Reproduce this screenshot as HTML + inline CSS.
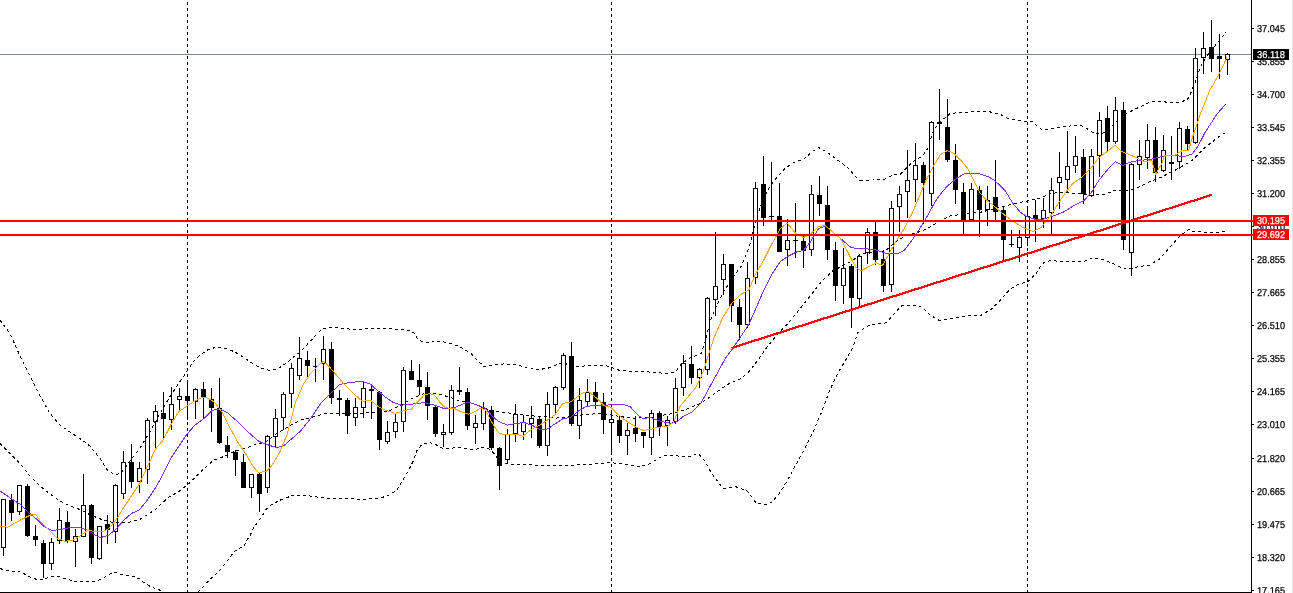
<!DOCTYPE html>
<html><head><meta charset="utf-8"><title>Chart</title>
<style>html,body{margin:0;padding:0;background:#fff;overflow:hidden}svg{display:block}</style></head>
<body>
<svg width="1293" height="593" viewBox="0 0 1293 593" shape-rendering="crispEdges">
<rect width="1293" height="593" fill="#fff"/>
<rect x="0" y="54" width="1251" height="1" fill="#778899"/>
<line x1="187.5" y1="2" x2="187.5" y2="592" stroke="#000" stroke-width="1" stroke-dasharray="3 3"/>
<line x1="611.5" y1="2" x2="611.5" y2="592" stroke="#000" stroke-width="1" stroke-dasharray="3 3"/>
<line x1="1027.5" y1="2" x2="1027.5" y2="592" stroke="#000" stroke-width="1" stroke-dasharray="3 3"/>
<rect x="3" y="499" width="1" height="57" fill="#000"/>
<rect x="1" y="499" width="5" height="49" fill="#000"/>
<rect x="2" y="500" width="3" height="47" fill="#fff"/>
<rect x="11" y="494" width="1" height="27" fill="#000"/>
<rect x="9" y="500" width="5" height="13" fill="#000"/>
<rect x="19" y="485" width="1" height="30" fill="#000"/>
<rect x="17" y="485" width="5" height="27" fill="#000"/>
<rect x="18" y="486" width="3" height="25" fill="#fff"/>
<rect x="27" y="484" width="1" height="53" fill="#000"/>
<rect x="25" y="486" width="5" height="50" fill="#000"/>
<rect x="35" y="525" width="1" height="21" fill="#000"/>
<rect x="33" y="536" width="5" height="4" fill="#000"/>
<rect x="43" y="540" width="1" height="38" fill="#000"/>
<rect x="41" y="543" width="5" height="21" fill="#000"/>
<rect x="51" y="538" width="1" height="32" fill="#000"/>
<rect x="49" y="542" width="5" height="22" fill="#000"/>
<rect x="50" y="543" width="3" height="20" fill="#fff"/>
<rect x="59" y="508" width="1" height="36" fill="#000"/>
<rect x="57" y="520" width="5" height="21" fill="#000"/>
<rect x="58" y="521" width="3" height="19" fill="#fff"/>
<rect x="67" y="511" width="1" height="32" fill="#000"/>
<rect x="65" y="522" width="5" height="19" fill="#000"/>
<rect x="75" y="529" width="1" height="38" fill="#000"/>
<rect x="73" y="536" width="5" height="6" fill="#000"/>
<rect x="74" y="537" width="3" height="4" fill="#fff"/>
<rect x="83" y="474" width="1" height="63" fill="#000"/>
<rect x="81" y="505" width="5" height="32" fill="#000"/>
<rect x="82" y="506" width="3" height="30" fill="#fff"/>
<rect x="91" y="504" width="1" height="60" fill="#000"/>
<rect x="89" y="505" width="5" height="53" fill="#000"/>
<rect x="99" y="526" width="1" height="34" fill="#000"/>
<rect x="97" y="526" width="5" height="33" fill="#000"/>
<rect x="98" y="527" width="3" height="31" fill="#fff"/>
<rect x="107" y="515" width="1" height="29" fill="#000"/>
<rect x="105" y="524" width="5" height="6" fill="#000"/>
<rect x="115" y="484" width="1" height="59" fill="#000"/>
<rect x="113" y="485" width="5" height="47" fill="#000"/>
<rect x="114" y="486" width="3" height="45" fill="#fff"/>
<rect x="123" y="451" width="1" height="48" fill="#000"/>
<rect x="121" y="462" width="5" height="32" fill="#000"/>
<rect x="122" y="463" width="3" height="30" fill="#fff"/>
<rect x="131" y="444" width="1" height="44" fill="#000"/>
<rect x="129" y="462" width="5" height="20" fill="#000"/>
<rect x="139" y="462" width="1" height="31" fill="#000"/>
<rect x="137" y="468" width="5" height="14" fill="#000"/>
<rect x="138" y="469" width="3" height="12" fill="#fff"/>
<rect x="147" y="418" width="1" height="66" fill="#000"/>
<rect x="145" y="420" width="5" height="50" fill="#000"/>
<rect x="146" y="421" width="3" height="48" fill="#fff"/>
<rect x="155" y="405" width="1" height="43" fill="#000"/>
<rect x="153" y="411" width="5" height="11" fill="#000"/>
<rect x="154" y="412" width="3" height="9" fill="#fff"/>
<rect x="163" y="392" width="1" height="46" fill="#000"/>
<rect x="161" y="413" width="5" height="6" fill="#000"/>
<rect x="171" y="387" width="1" height="43" fill="#000"/>
<rect x="169" y="404" width="5" height="16" fill="#000"/>
<rect x="170" y="405" width="3" height="14" fill="#fff"/>
<rect x="179" y="388" width="1" height="22" fill="#000"/>
<rect x="177" y="396" width="5" height="4" fill="#000"/>
<rect x="178" y="397" width="3" height="2" fill="#fff"/>
<rect x="187" y="382" width="1" height="38" fill="#000"/>
<rect x="185" y="396" width="5" height="5" fill="#000"/>
<rect x="195" y="388" width="1" height="31" fill="#000"/>
<rect x="193" y="389" width="5" height="13" fill="#000"/>
<rect x="194" y="390" width="3" height="11" fill="#fff"/>
<rect x="203" y="382" width="1" height="37" fill="#000"/>
<rect x="201" y="389" width="5" height="9" fill="#000"/>
<rect x="211" y="388" width="1" height="44" fill="#000"/>
<rect x="209" y="399" width="5" height="9" fill="#000"/>
<rect x="219" y="378" width="1" height="66" fill="#000"/>
<rect x="217" y="408" width="5" height="35" fill="#000"/>
<rect x="227" y="436" width="1" height="22" fill="#000"/>
<rect x="225" y="445" width="5" height="7" fill="#000"/>
<rect x="235" y="450" width="1" height="26" fill="#000"/>
<rect x="233" y="452" width="5" height="8" fill="#000"/>
<rect x="243" y="454" width="1" height="34" fill="#000"/>
<rect x="241" y="462" width="5" height="26" fill="#000"/>
<rect x="251" y="474" width="1" height="24" fill="#000"/>
<rect x="249" y="474" width="5" height="14" fill="#000"/>
<rect x="250" y="475" width="3" height="12" fill="#fff"/>
<rect x="259" y="472" width="1" height="40" fill="#000"/>
<rect x="257" y="474" width="5" height="20" fill="#000"/>
<rect x="267" y="435" width="1" height="58" fill="#000"/>
<rect x="265" y="436" width="5" height="52" fill="#000"/>
<rect x="266" y="437" width="3" height="50" fill="#fff"/>
<rect x="275" y="409" width="1" height="38" fill="#000"/>
<rect x="273" y="418" width="5" height="19" fill="#000"/>
<rect x="274" y="419" width="3" height="17" fill="#fff"/>
<rect x="283" y="392" width="1" height="38" fill="#000"/>
<rect x="281" y="394" width="5" height="24" fill="#000"/>
<rect x="282" y="395" width="3" height="22" fill="#fff"/>
<rect x="291" y="363" width="1" height="45" fill="#000"/>
<rect x="289" y="368" width="5" height="26" fill="#000"/>
<rect x="290" y="369" width="3" height="24" fill="#fff"/>
<rect x="299" y="337" width="1" height="43" fill="#000"/>
<rect x="297" y="358" width="5" height="18" fill="#000"/>
<rect x="298" y="359" width="3" height="16" fill="#fff"/>
<rect x="307" y="351" width="1" height="28" fill="#000"/>
<rect x="305" y="360" width="5" height="6" fill="#000"/>
<rect x="315" y="358" width="1" height="24" fill="#000"/>
<rect x="313" y="366" width="5" height="1" fill="#000"/>
<rect x="323" y="336" width="1" height="44" fill="#000"/>
<rect x="321" y="349" width="5" height="15" fill="#000"/>
<rect x="322" y="350" width="3" height="13" fill="#fff"/>
<rect x="331" y="342" width="1" height="62" fill="#000"/>
<rect x="329" y="349" width="5" height="49" fill="#000"/>
<rect x="339" y="390" width="1" height="26" fill="#000"/>
<rect x="337" y="398" width="5" height="2" fill="#000"/>
<rect x="347" y="398" width="1" height="36" fill="#000"/>
<rect x="345" y="400" width="5" height="16" fill="#000"/>
<rect x="355" y="398" width="1" height="28" fill="#000"/>
<rect x="353" y="407" width="5" height="11" fill="#000"/>
<rect x="354" y="408" width="3" height="9" fill="#fff"/>
<rect x="363" y="382" width="1" height="36" fill="#000"/>
<rect x="361" y="388" width="5" height="20" fill="#000"/>
<rect x="362" y="389" width="3" height="18" fill="#fff"/>
<rect x="371" y="384" width="1" height="35" fill="#000"/>
<rect x="369" y="389" width="5" height="2" fill="#000"/>
<rect x="379" y="391" width="1" height="59" fill="#000"/>
<rect x="377" y="392" width="5" height="48" fill="#000"/>
<rect x="387" y="421" width="1" height="23" fill="#000"/>
<rect x="385" y="432" width="5" height="10" fill="#000"/>
<rect x="386" y="433" width="3" height="8" fill="#fff"/>
<rect x="395" y="414" width="1" height="24" fill="#000"/>
<rect x="393" y="422" width="5" height="10" fill="#000"/>
<rect x="394" y="423" width="3" height="8" fill="#fff"/>
<rect x="403" y="367" width="1" height="65" fill="#000"/>
<rect x="401" y="370" width="5" height="52" fill="#000"/>
<rect x="402" y="371" width="3" height="50" fill="#fff"/>
<rect x="411" y="360" width="1" height="20" fill="#000"/>
<rect x="409" y="371" width="5" height="9" fill="#000"/>
<rect x="419" y="364" width="1" height="31" fill="#000"/>
<rect x="417" y="380" width="5" height="7" fill="#000"/>
<rect x="427" y="372" width="1" height="48" fill="#000"/>
<rect x="425" y="387" width="5" height="19" fill="#000"/>
<rect x="435" y="406" width="1" height="31" fill="#000"/>
<rect x="433" y="407" width="5" height="27" fill="#000"/>
<rect x="443" y="424" width="1" height="23" fill="#000"/>
<rect x="441" y="432" width="5" height="3" fill="#000"/>
<rect x="442" y="433" width="3" height="1" fill="#fff"/>
<rect x="451" y="385" width="1" height="50" fill="#000"/>
<rect x="449" y="390" width="5" height="43" fill="#000"/>
<rect x="450" y="391" width="3" height="41" fill="#fff"/>
<rect x="459" y="367" width="1" height="28" fill="#000"/>
<rect x="457" y="390" width="5" height="2" fill="#000"/>
<rect x="467" y="388" width="1" height="42" fill="#000"/>
<rect x="465" y="392" width="5" height="34" fill="#000"/>
<rect x="475" y="415" width="1" height="29" fill="#000"/>
<rect x="473" y="423" width="5" height="5" fill="#000"/>
<rect x="474" y="424" width="3" height="3" fill="#fff"/>
<rect x="483" y="402" width="1" height="28" fill="#000"/>
<rect x="481" y="408" width="5" height="16" fill="#000"/>
<rect x="482" y="409" width="3" height="14" fill="#fff"/>
<rect x="491" y="406" width="1" height="44" fill="#000"/>
<rect x="489" y="410" width="5" height="38" fill="#000"/>
<rect x="499" y="447" width="1" height="43" fill="#000"/>
<rect x="497" y="448" width="5" height="18" fill="#000"/>
<rect x="507" y="429" width="1" height="35" fill="#000"/>
<rect x="505" y="434" width="5" height="26" fill="#000"/>
<rect x="506" y="435" width="3" height="24" fill="#fff"/>
<rect x="515" y="404" width="1" height="38" fill="#000"/>
<rect x="513" y="414" width="5" height="20" fill="#000"/>
<rect x="514" y="415" width="3" height="18" fill="#fff"/>
<rect x="523" y="415" width="1" height="25" fill="#000"/>
<rect x="521" y="422" width="5" height="10" fill="#000"/>
<rect x="522" y="423" width="3" height="8" fill="#fff"/>
<rect x="531" y="406" width="1" height="32" fill="#000"/>
<rect x="529" y="418" width="5" height="6" fill="#000"/>
<rect x="530" y="419" width="3" height="4" fill="#fff"/>
<rect x="539" y="417" width="1" height="31" fill="#000"/>
<rect x="537" y="419" width="5" height="27" fill="#000"/>
<rect x="547" y="392" width="1" height="64" fill="#000"/>
<rect x="545" y="404" width="5" height="42" fill="#000"/>
<rect x="546" y="405" width="3" height="40" fill="#fff"/>
<rect x="555" y="386" width="1" height="29" fill="#000"/>
<rect x="553" y="387" width="5" height="18" fill="#000"/>
<rect x="554" y="388" width="3" height="16" fill="#fff"/>
<rect x="563" y="353" width="1" height="37" fill="#000"/>
<rect x="561" y="355" width="5" height="33" fill="#000"/>
<rect x="562" y="356" width="3" height="31" fill="#fff"/>
<rect x="571" y="342" width="1" height="84" fill="#000"/>
<rect x="569" y="356" width="5" height="68" fill="#000"/>
<rect x="579" y="388" width="1" height="51" fill="#000"/>
<rect x="577" y="400" width="5" height="26" fill="#000"/>
<rect x="578" y="401" width="3" height="24" fill="#fff"/>
<rect x="587" y="379" width="1" height="27" fill="#000"/>
<rect x="585" y="392" width="5" height="10" fill="#000"/>
<rect x="586" y="393" width="3" height="8" fill="#fff"/>
<rect x="595" y="382" width="1" height="27" fill="#000"/>
<rect x="593" y="392" width="5" height="10" fill="#000"/>
<rect x="603" y="393" width="1" height="41" fill="#000"/>
<rect x="601" y="402" width="5" height="18" fill="#000"/>
<rect x="611" y="410" width="1" height="44" fill="#000"/>
<rect x="609" y="419" width="5" height="4" fill="#000"/>
<rect x="610" y="420" width="3" height="2" fill="#fff"/>
<rect x="619" y="416" width="1" height="27" fill="#000"/>
<rect x="617" y="420" width="5" height="16" fill="#000"/>
<rect x="627" y="423" width="1" height="32" fill="#000"/>
<rect x="625" y="430" width="5" height="6" fill="#000"/>
<rect x="626" y="431" width="3" height="4" fill="#fff"/>
<rect x="635" y="416" width="1" height="26" fill="#000"/>
<rect x="633" y="428" width="5" height="6" fill="#000"/>
<rect x="643" y="432" width="1" height="16" fill="#000"/>
<rect x="641" y="432" width="5" height="4" fill="#000"/>
<rect x="651" y="410" width="1" height="45" fill="#000"/>
<rect x="649" y="413" width="5" height="25" fill="#000"/>
<rect x="650" y="414" width="3" height="23" fill="#fff"/>
<rect x="659" y="411" width="1" height="25" fill="#000"/>
<rect x="657" y="413" width="5" height="14" fill="#000"/>
<rect x="667" y="416" width="1" height="30" fill="#000"/>
<rect x="665" y="420" width="5" height="6" fill="#000"/>
<rect x="666" y="421" width="3" height="4" fill="#fff"/>
<rect x="675" y="378" width="1" height="46" fill="#000"/>
<rect x="673" y="388" width="5" height="34" fill="#000"/>
<rect x="674" y="389" width="3" height="32" fill="#fff"/>
<rect x="683" y="355" width="1" height="41" fill="#000"/>
<rect x="681" y="363" width="5" height="25" fill="#000"/>
<rect x="682" y="364" width="3" height="23" fill="#fff"/>
<rect x="691" y="346" width="1" height="38" fill="#000"/>
<rect x="689" y="364" width="5" height="14" fill="#000"/>
<rect x="699" y="368" width="1" height="20" fill="#000"/>
<rect x="697" y="369" width="5" height="9" fill="#000"/>
<rect x="698" y="370" width="3" height="7" fill="#fff"/>
<rect x="707" y="297" width="1" height="78" fill="#000"/>
<rect x="705" y="298" width="5" height="72" fill="#000"/>
<rect x="706" y="299" width="3" height="70" fill="#fff"/>
<rect x="715" y="232" width="1" height="84" fill="#000"/>
<rect x="713" y="286" width="5" height="14" fill="#000"/>
<rect x="714" y="287" width="3" height="12" fill="#fff"/>
<rect x="723" y="254" width="1" height="41" fill="#000"/>
<rect x="721" y="264" width="5" height="16" fill="#000"/>
<rect x="722" y="265" width="3" height="14" fill="#fff"/>
<rect x="731" y="264" width="1" height="58" fill="#000"/>
<rect x="729" y="264" width="5" height="42" fill="#000"/>
<rect x="739" y="299" width="1" height="41" fill="#000"/>
<rect x="737" y="307" width="5" height="18" fill="#000"/>
<rect x="747" y="262" width="1" height="66" fill="#000"/>
<rect x="745" y="278" width="5" height="47" fill="#000"/>
<rect x="746" y="279" width="3" height="45" fill="#fff"/>
<rect x="755" y="182" width="1" height="102" fill="#000"/>
<rect x="753" y="188" width="5" height="90" fill="#000"/>
<rect x="754" y="189" width="3" height="88" fill="#fff"/>
<rect x="763" y="156" width="1" height="70" fill="#000"/>
<rect x="761" y="184" width="5" height="34" fill="#000"/>
<rect x="771" y="162" width="1" height="58" fill="#000"/>
<rect x="769" y="216" width="5" height="1" fill="#000"/>
<rect x="779" y="183" width="1" height="69" fill="#000"/>
<rect x="777" y="216" width="5" height="36" fill="#000"/>
<rect x="787" y="219" width="1" height="47" fill="#000"/>
<rect x="785" y="240" width="5" height="10" fill="#000"/>
<rect x="786" y="241" width="3" height="8" fill="#fff"/>
<rect x="795" y="203" width="1" height="55" fill="#000"/>
<rect x="793" y="240" width="5" height="1" fill="#000"/>
<rect x="803" y="235" width="1" height="33" fill="#000"/>
<rect x="801" y="241" width="5" height="10" fill="#000"/>
<rect x="811" y="185" width="1" height="71" fill="#000"/>
<rect x="809" y="194" width="5" height="56" fill="#000"/>
<rect x="810" y="195" width="3" height="54" fill="#fff"/>
<rect x="819" y="176" width="1" height="40" fill="#000"/>
<rect x="817" y="195" width="5" height="9" fill="#000"/>
<rect x="827" y="186" width="1" height="74" fill="#000"/>
<rect x="825" y="205" width="5" height="45" fill="#000"/>
<rect x="835" y="242" width="1" height="59" fill="#000"/>
<rect x="833" y="250" width="5" height="36" fill="#000"/>
<rect x="843" y="248" width="1" height="56" fill="#000"/>
<rect x="841" y="268" width="5" height="18" fill="#000"/>
<rect x="842" y="269" width="3" height="16" fill="#fff"/>
<rect x="851" y="264" width="1" height="64" fill="#000"/>
<rect x="849" y="266" width="5" height="32" fill="#000"/>
<rect x="859" y="255" width="1" height="51" fill="#000"/>
<rect x="857" y="256" width="5" height="43" fill="#000"/>
<rect x="858" y="257" width="3" height="41" fill="#fff"/>
<rect x="867" y="228" width="1" height="36" fill="#000"/>
<rect x="865" y="232" width="5" height="21" fill="#000"/>
<rect x="866" y="233" width="3" height="19" fill="#fff"/>
<rect x="875" y="222" width="1" height="43" fill="#000"/>
<rect x="873" y="232" width="5" height="28" fill="#000"/>
<rect x="883" y="250" width="1" height="42" fill="#000"/>
<rect x="881" y="259" width="5" height="27" fill="#000"/>
<rect x="891" y="201" width="1" height="91" fill="#000"/>
<rect x="889" y="208" width="5" height="77" fill="#000"/>
<rect x="890" y="209" width="3" height="75" fill="#fff"/>
<rect x="899" y="186" width="1" height="46" fill="#000"/>
<rect x="897" y="194" width="5" height="13" fill="#000"/>
<rect x="898" y="195" width="3" height="11" fill="#fff"/>
<rect x="907" y="150" width="1" height="68" fill="#000"/>
<rect x="905" y="180" width="5" height="12" fill="#000"/>
<rect x="906" y="181" width="3" height="10" fill="#fff"/>
<rect x="915" y="143" width="1" height="59" fill="#000"/>
<rect x="913" y="165" width="5" height="15" fill="#000"/>
<rect x="914" y="166" width="3" height="13" fill="#fff"/>
<rect x="923" y="162" width="1" height="62" fill="#000"/>
<rect x="921" y="165" width="5" height="18" fill="#000"/>
<rect x="931" y="121" width="1" height="85" fill="#000"/>
<rect x="929" y="122" width="5" height="72" fill="#000"/>
<rect x="930" y="123" width="3" height="70" fill="#fff"/>
<rect x="939" y="89" width="1" height="51" fill="#000"/>
<rect x="937" y="122" width="5" height="2" fill="#000"/>
<rect x="947" y="99" width="1" height="63" fill="#000"/>
<rect x="945" y="127" width="5" height="33" fill="#000"/>
<rect x="955" y="144" width="1" height="60" fill="#000"/>
<rect x="953" y="160" width="5" height="30" fill="#000"/>
<rect x="963" y="183" width="1" height="53" fill="#000"/>
<rect x="961" y="192" width="5" height="28" fill="#000"/>
<rect x="971" y="183" width="1" height="37" fill="#000"/>
<rect x="969" y="189" width="5" height="31" fill="#000"/>
<rect x="970" y="190" width="3" height="29" fill="#fff"/>
<rect x="979" y="186" width="1" height="51" fill="#000"/>
<rect x="977" y="190" width="5" height="20" fill="#000"/>
<rect x="987" y="186" width="1" height="40" fill="#000"/>
<rect x="985" y="200" width="5" height="10" fill="#000"/>
<rect x="986" y="201" width="3" height="8" fill="#fff"/>
<rect x="995" y="160" width="1" height="60" fill="#000"/>
<rect x="993" y="197" width="5" height="15" fill="#000"/>
<rect x="1003" y="206" width="1" height="56" fill="#000"/>
<rect x="1001" y="210" width="5" height="30" fill="#000"/>
<rect x="1011" y="230" width="1" height="17" fill="#000"/>
<rect x="1009" y="244" width="5" height="1" fill="#000"/>
<rect x="1019" y="230" width="1" height="32" fill="#000"/>
<rect x="1017" y="237" width="5" height="11" fill="#000"/>
<rect x="1018" y="238" width="3" height="9" fill="#fff"/>
<rect x="1027" y="206" width="1" height="40" fill="#000"/>
<rect x="1025" y="216" width="5" height="22" fill="#000"/>
<rect x="1026" y="217" width="3" height="20" fill="#fff"/>
<rect x="1035" y="200" width="1" height="42" fill="#000"/>
<rect x="1033" y="215" width="5" height="4" fill="#000"/>
<rect x="1043" y="198" width="1" height="30" fill="#000"/>
<rect x="1041" y="210" width="5" height="9" fill="#000"/>
<rect x="1042" y="211" width="3" height="7" fill="#fff"/>
<rect x="1051" y="178" width="1" height="56" fill="#000"/>
<rect x="1049" y="190" width="5" height="23" fill="#000"/>
<rect x="1050" y="191" width="3" height="21" fill="#fff"/>
<rect x="1059" y="152" width="1" height="57" fill="#000"/>
<rect x="1057" y="177" width="5" height="6" fill="#000"/>
<rect x="1058" y="178" width="3" height="4" fill="#fff"/>
<rect x="1067" y="131" width="1" height="61" fill="#000"/>
<rect x="1065" y="166" width="5" height="14" fill="#000"/>
<rect x="1066" y="167" width="3" height="12" fill="#fff"/>
<rect x="1075" y="136" width="1" height="37" fill="#000"/>
<rect x="1073" y="156" width="5" height="10" fill="#000"/>
<rect x="1074" y="157" width="3" height="8" fill="#fff"/>
<rect x="1083" y="149" width="1" height="55" fill="#000"/>
<rect x="1081" y="157" width="5" height="37" fill="#000"/>
<rect x="1091" y="149" width="1" height="48" fill="#000"/>
<rect x="1089" y="156" width="5" height="40" fill="#000"/>
<rect x="1090" y="157" width="3" height="38" fill="#fff"/>
<rect x="1099" y="112" width="1" height="65" fill="#000"/>
<rect x="1097" y="120" width="5" height="36" fill="#000"/>
<rect x="1098" y="121" width="3" height="34" fill="#fff"/>
<rect x="1107" y="106" width="1" height="46" fill="#000"/>
<rect x="1105" y="118" width="5" height="24" fill="#000"/>
<rect x="1115" y="97" width="1" height="47" fill="#000"/>
<rect x="1113" y="110" width="5" height="32" fill="#000"/>
<rect x="1114" y="111" width="3" height="30" fill="#fff"/>
<rect x="1123" y="102" width="1" height="148" fill="#000"/>
<rect x="1121" y="110" width="5" height="130" fill="#000"/>
<rect x="1131" y="163" width="1" height="113" fill="#000"/>
<rect x="1129" y="164" width="5" height="89" fill="#000"/>
<rect x="1130" y="165" width="3" height="87" fill="#fff"/>
<rect x="1139" y="140" width="1" height="40" fill="#000"/>
<rect x="1137" y="156" width="5" height="9" fill="#000"/>
<rect x="1138" y="157" width="3" height="7" fill="#fff"/>
<rect x="1147" y="124" width="1" height="45" fill="#000"/>
<rect x="1145" y="140" width="5" height="18" fill="#000"/>
<rect x="1146" y="141" width="3" height="16" fill="#fff"/>
<rect x="1155" y="127" width="1" height="55" fill="#000"/>
<rect x="1153" y="140" width="5" height="33" fill="#000"/>
<rect x="1163" y="135" width="1" height="37" fill="#000"/>
<rect x="1161" y="150" width="5" height="21" fill="#000"/>
<rect x="1162" y="151" width="3" height="19" fill="#fff"/>
<rect x="1171" y="136" width="1" height="44" fill="#000"/>
<rect x="1169" y="162" width="5" height="2" fill="#000"/>
<rect x="1179" y="122" width="1" height="47" fill="#000"/>
<rect x="1177" y="128" width="5" height="34" fill="#000"/>
<rect x="1178" y="129" width="3" height="32" fill="#fff"/>
<rect x="1187" y="126" width="1" height="24" fill="#000"/>
<rect x="1185" y="129" width="5" height="15" fill="#000"/>
<rect x="1195" y="48" width="1" height="96" fill="#000"/>
<rect x="1193" y="58" width="5" height="85" fill="#000"/>
<rect x="1194" y="59" width="3" height="83" fill="#fff"/>
<rect x="1203" y="32" width="1" height="42" fill="#000"/>
<rect x="1201" y="48" width="5" height="10" fill="#000"/>
<rect x="1202" y="49" width="3" height="8" fill="#fff"/>
<rect x="1211" y="20" width="1" height="52" fill="#000"/>
<rect x="1209" y="47" width="5" height="12" fill="#000"/>
<rect x="1219" y="34" width="1" height="45" fill="#000"/>
<rect x="1217" y="56" width="5" height="3" fill="#000"/>
<rect x="1227" y="53" width="1" height="22" fill="#000"/>
<rect x="1225" y="54" width="5" height="6" fill="#000"/>
<rect x="1226" y="55" width="3" height="4" fill="#fff"/>
<polyline points="0.0,320.0 10.0,333.5 20.0,356.0 30.0,376.0 40.0,396.0 50.0,413.5 60.0,425.0 70.0,432.0 80.0,438.5 90.0,446.0 100.0,458.5 107.7,470.6 115.5,475.0 120.6,473.2 125.8,466.8 133.5,456.5 141.3,446.0 149.0,433.2 155.5,421.6 162.0,410.0 169.7,397.0 177.4,385.5 185.2,373.9 193.0,362.3 200.6,354.5 208.4,349.4 216.0,347.3 223.9,348.0 231.6,350.6 239.4,354.5 247.0,359.7 254.8,364.8 262.6,368.7 270.3,370.5 278.0,368.7 285.8,363.5 293.5,357.0 300.0,352.0 311.0,340.6 321.0,329.8 327.7,327.2 342.0,328.3 357.4,329.8 367.7,328.3 388.4,328.5 409.0,330.3 414.0,333.0 418.0,339.4 424.5,342.7 440.0,341.2 447.7,342.7 460.6,347.0 471.0,353.5 477.7,360.6 484.2,366.6 493.2,365.0 503.5,364.0 516.5,364.5 526.8,367.9 537.0,369.7 547.4,368.4 557.7,364.5 563.0,362.0 570.0,366.0 575.8,367.0 586.0,365.8 604.0,365.0 610.6,367.0 619.7,370.5 637.7,371.5 655.8,372.3 668.0,374.0 676.0,371.4 681.6,363.7 689.8,358.0 698.0,355.0 701.3,353.2 705.2,341.6 710.3,321.0 715.5,308.0 723.2,292.6 733.5,276.5 741.3,266.0 749.0,248.0 754.2,227.4 759.4,209.4 767.0,191.3 774.8,179.7 785.2,168.0 795.5,161.6 803.2,160.0 811.0,152.6 818.5,147.5 826.7,152.0 837.7,160.2 848.6,168.4 855.4,176.7 859.6,180.2 873.2,180.0 884.2,179.4 892.4,175.3 900.6,174.0 904.7,169.8 913.0,161.6 922.5,156.0 928.0,148.0 933.5,130.0 941.7,120.5 950.0,113.7 960.8,112.3 974.5,111.8 986.9,111.0 993.7,112.9 999.6,114.0 1009.0,119.0 1020.8,121.0 1032.6,122.0 1042.0,129.7 1056.2,128.0 1068.0,126.2 1079.8,125.0 1086.9,128.6 1094.0,133.3 1101.0,134.0 1108.0,130.0 1116.0,122.0 1127.0,113.2 1138.8,107.3 1150.6,102.0 1162.4,101.4 1170.7,103.0 1179.0,102.0 1187.2,100.2 1190.7,93.2 1195.5,81.4 1200.2,67.2 1207.3,55.4 1216.7,43.6 1226.1,31.8" fill="none" stroke="#000" stroke-width="1" stroke-dasharray="3 3"/>
<polyline points="0.0,443.5 10.0,453.5 20.0,463.5 30.0,476.0 40.0,486.0 50.0,494.0 60.0,501.0 70.0,506.0 80.0,509.5 90.0,514.8 103.0,520.0 113.5,522.6 125.0,523.0 139.0,520.0 155.0,509.7 167.7,498.0 180.6,490.3 190.3,482.3 203.2,469.4 213.5,460.3 223.9,456.5 234.2,451.3 244.5,448.7 254.8,444.8 265.2,442.3 275.5,434.5 285.8,428.0 300.0,420.3 313.5,416.8 326.5,413.4 342.0,413.4 360.0,413.4 388.0,411.6 401.0,405.0 414.0,397.4 424.5,393.5 437.4,393.5 450.0,397.4 460.6,401.3 470.0,402.0 477.7,405.8 488.0,409.2 498.4,411.7 508.7,413.0 521.6,414.8 534.5,416.1 544.8,416.6 555.0,418.2 563.0,417.4 573.2,415.6 583.5,414.8 599.0,413.5 610.6,414.8 619.7,416.6 635.0,418.2 650.6,417.4 659.7,415.7 673.4,413.5 687.0,408.9 700.8,403.4 714.4,393.8 728.0,384.2 741.8,378.2 750.0,370.5 758.3,359.6 766.5,347.8 777.4,334.2 788.4,323.2 799.3,309.5 810.3,295.8 821.2,282.0 832.2,271.2 843.0,265.7 851.3,261.5 860.3,254.5 875.8,252.0 886.0,250.6 893.9,243.0 904.2,236.5 917.0,232.6 927.4,228.7 937.7,222.3 950.6,215.8 961.0,214.5 981.6,212.0 992.0,209.4 1004.8,206.0 1017.7,203.0 1030.6,200.3 1040.6,198.3 1050.7,193.2 1060.8,192.7 1076.0,193.2 1091.0,195.2 1103.8,194.5 1114.0,190.7 1121.5,190.7 1134.0,189.4 1146.8,183.0 1162.0,176.8 1177.0,169.2 1192.3,160.3 1205.0,147.7 1217.6,137.6 1227.7,131.3" fill="none" stroke="#000" stroke-width="1" stroke-dasharray="3 3"/>
<polyline points="0.0,568.6 12.0,571.8 20.0,571.2 28.0,576.3 36.4,579.3 43.5,579.0 50.6,577.0 58.7,576.3 66.8,579.3 75.0,581.3 85.0,581.3 93.0,581.7 101.0,579.3 109.3,574.3 115.4,572.2 120.0,574.0 127.4,575.9 133.6,576.5 139.8,579.0 144.8,583.3 151.0,586.8 158.4,589.5 162.7,591.4 164.0,592.0" fill="none" stroke="#000" stroke-width="1" stroke-dasharray="3 3"/>
<polyline points="198.2,592.0 199.2,590.7 204.2,585.8 209.0,580.2 215.3,574.7 220.9,569.0 225.2,563.5 229.5,558.0 233.9,551.8 238.8,548.4 243.8,546.8 245.5,542.5 247.0,540.0 250.0,535.5 254.0,527.2 260.2,519.0 266.3,509.0 272.4,504.0 280.5,500.0 292.6,495.5 302.7,494.9 312.8,496.5 325.0,498.0 341.0,498.3 361.4,499.3 379.6,498.3 389.7,494.9 396.8,489.8 401.9,481.7 408.0,471.6 413.0,461.5 417.0,450.4 422.0,444.3 429.2,442.3 435.3,444.3 442.3,448.3 450.4,448.3 460.6,447.3 468.6,449.3 474.7,450.0 481.8,447.3 487.9,448.3 493.0,452.4 497.0,457.4 499.7,461.3 507.4,463.9 521.6,464.6 537.0,465.2 560.3,465.7 586.0,464.6 610.6,462.6 624.8,464.4 640.3,466.5 648.0,464.6 655.8,460.0 663.5,455.6 673.4,455.4 687.0,457.3 698.0,453.5 703.5,459.5 711.7,473.2 722.7,488.3 736.3,486.9 747.3,491.0 755.5,502.0 763.7,505.2 772.0,502.0 780.2,492.4 788.4,478.7 796.6,463.6 804.8,448.6 813.0,432.0 821.2,413.0 829.4,391.0 837.7,373.3 845.9,359.6 852.7,347.8 857.7,333.0 865.5,326.8 875.8,323.7 886.0,322.9 893.9,313.9 901.6,306.0 912.0,304.8 922.3,307.4 930.0,315.0 939.0,320.3 953.2,318.3 966.0,316.0 981.6,315.0 992.0,308.7 999.7,301.0 1007.4,292.0 1015.2,285.5 1028.0,281.6 1035.8,273.9 1042.3,263.5 1050.0,260.5 1055.7,261.0 1071.0,261.0 1083.6,261.5 1091.0,258.5 1101.3,259.0 1111.4,262.8 1121.5,267.8 1130.3,268.6 1139.2,266.5 1149.3,265.3 1159.4,259.0 1169.5,247.6 1179.7,236.2 1188.5,229.4 1192.3,231.2 1205.0,232.4 1217.6,232.4 1227.7,231.2" fill="none" stroke="#000" stroke-width="1" stroke-dasharray="3 3"/>
<polyline points="0.0,491.0 10.3,498.0 20.6,504.5 28.4,512.3 36.0,518.7 43.9,526.5 51.6,530.3 59.4,529.8 69.7,527.7 80.0,527.7 87.7,530.3 95.5,535.5 100.6,537.5 108.4,535.5 116.0,529.0 124.0,520.0 131.6,513.5 139.4,509.7 147.0,500.6 154.8,489.0 160.6,478.7 171.0,458.0 181.3,442.6 186.5,434.8 194.2,425.8 204.5,418.0 212.3,410.3 220.0,409.0 227.7,413.0 238.0,422.0 248.4,432.3 258.7,441.3 269.0,445.2 276.8,447.7 284.5,445.2 290.3,440.0 300.6,431.0 311.0,418.0 321.3,402.6 329.0,394.8 339.4,384.5 349.7,382.5 362.6,381.4 370.3,384.0 378.0,391.0 385.8,397.4 393.5,402.6 401.3,405.2 414.2,403.9 424.5,402.6 434.8,405.2 445.2,409.0 455.5,407.2 465.8,403.0 470.0,402.7 477.7,405.3 485.5,408.4 492.0,416.0 498.4,421.3 507.4,425.2 516.5,423.4 524.2,422.6 532.0,425.2 539.7,429.5 547.4,429.0 555.0,423.9 563.0,418.7 570.6,417.4 578.4,411.0 586.0,406.6 594.0,405.3 604.0,405.3 614.5,404.5 622.3,404.0 630.0,406.6 637.7,414.8 643.0,418.7 650.6,417.4 654.2,419.0 662.4,421.7 670.6,423.4 677.5,421.2 684.3,415.7 692.5,411.6 700.8,403.4 709.0,388.3 717.2,373.3 725.4,358.2 732.2,349.2 740.5,337.0 748.7,324.6 755.5,309.5 763.7,290.3 772.0,274.0 780.2,261.6 788.4,256.0 796.6,252.0 803.4,250.6 810.3,242.0 818.5,228.7 825.3,226.0 832.2,231.4 840.4,238.3 851.3,247.8 865.0,248.7 876.0,250.0 886.0,253.2 896.5,254.0 904.2,250.6 912.0,240.3 919.7,228.7 927.4,215.8 935.2,201.6 941.6,192.6 947.2,186.2 955.4,179.4 963.6,174.0 971.8,173.0 980.0,174.0 988.2,176.7 995.0,180.8 1005.2,190.7 1012.8,203.3 1020.3,212.2 1028.0,217.2 1035.5,219.3 1044.4,219.0 1053.2,216.0 1063.3,212.2 1073.4,205.9 1083.6,200.8 1091.0,193.2 1098.7,180.6 1108.9,168.0 1115.2,161.6 1122.8,165.4 1131.6,161.6 1141.7,160.3 1151.8,159.0 1162.0,156.5 1172.0,155.3 1184.7,156.5 1192.3,154.0 1198.6,145.2 1205.0,132.5 1216.7,114.4 1226.1,103.8" fill="none" stroke="#8A2BE2" stroke-width="1"/>
<polyline points="0.0,526.5 7.7,527.2 15.5,522.6 23.2,518.7 31.0,514.8 36.0,514.8 41.3,522.6 49.0,530.3 56.8,538.0 64.5,541.2 72.3,540.6 80.0,536.0 87.7,530.3 95.5,531.6 103.2,531.6 108.4,529.0 116.0,520.0 124.0,507.0 131.6,495.5 139.4,483.9 147.7,465.8 155.5,449.0 163.2,440.0 171.0,424.5 178.7,411.6 186.5,406.5 194.2,401.3 202.0,397.4 208.4,398.2 214.8,402.6 222.6,412.9 230.3,428.4 238.0,442.6 245.8,454.2 253.5,467.0 258.7,472.8 266.5,471.0 271.6,465.8 279.4,452.9 287.0,434.8 295.5,402.6 303.2,384.5 311.0,372.9 318.7,365.2 323.4,361.3 329.0,366.5 336.8,375.5 344.5,384.5 352.3,392.3 360.0,399.5 363.9,401.3 370.3,400.0 378.0,406.5 385.8,410.3 394.8,413.4 403.9,410.8 411.6,409.0 416.8,402.6 424.5,394.8 429.7,393.5 434.8,395.4 440.0,402.6 445.2,407.7 455.5,409.0 460.6,411.6 468.4,414.2 473.5,412.4 480.0,408.4 485.5,409.7 492.0,422.6 498.4,432.9 506.0,435.0 516.5,434.2 523.0,436.3 532.0,429.0 539.7,425.2 547.4,420.0 555.0,414.8 563.0,403.2 569.4,402.7 575.8,398.0 583.5,392.4 588.7,391.6 596.5,398.0 604.2,405.8 610.6,407.1 617.0,413.5 624.8,420.0 635.2,426.5 643.0,430.3 650.6,429.5 657.0,427.5 668.0,426.0 673.4,422.6 680.2,406.0 687.0,398.0 695.3,388.3 700.8,377.4 705.0,366.4 709.0,352.7 714.4,336.9 722.7,317.7 732.2,302.7 740.5,294.5 748.7,290.3 755.5,274.0 763.7,260.2 772.0,243.5 780.2,229.0 787.0,223.0 795.2,232.8 803.4,237.5 810.3,234.2 818.5,226.7 825.3,225.5 832.2,231.5 840.4,238.3 847.2,251.0 851.3,259.0 855.4,267.0 861.0,270.8 868.0,267.2 876.0,262.7 882.5,265.5 888.7,254.5 896.5,240.5 904.2,228.7 912.0,213.5 918.4,198.5 925.3,182.0 933.5,165.7 940.3,154.8 947.2,150.6 954.0,153.4 960.8,160.2 967.7,168.4 974.5,182.0 980.0,193.0 986.9,200.5 992.0,204.2 1002.3,213.2 1012.6,221.0 1022.9,227.4 1033.2,231.3 1041.0,227.4 1050.7,216.0 1058.3,203.3 1065.9,192.0 1073.4,183.0 1081.0,178.0 1091.0,168.0 1098.7,157.8 1108.9,150.2 1115.2,145.2 1121.5,151.5 1129.0,154.5 1136.7,157.8 1144.3,161.6 1151.8,160.3 1155.6,174.3 1162.0,162.9 1164.5,155.3 1174.6,155.3 1182.2,150.6 1188.5,150.6 1193.0,135.6 1200.2,114.4 1209.6,90.8 1219.0,74.3 1227.3,56.6" fill="none" stroke="#FFA500" stroke-width="1"/>
<line x1="731.5" y1="348" x2="1212" y2="194.8" stroke="#f00" stroke-width="2.2"/>
<rect x="1251" y="0" width="1" height="593" fill="#000"/>
<rect x="0" y="592" width="1252" height="1" fill="#000"/>
<rect x="0" y="220" width="1253" height="2" fill="#f00"/>
<rect x="0" y="234" width="1253" height="2" fill="#f00"/>
<g font-family="Liberation Sans, Arial, sans-serif" font-size="10px" fill="#000" stroke="#000" stroke-width="0.25" shape-rendering="auto" text-rendering="geometricPrecision">
<rect x="1252" y="28" width="2" height="1" fill="#000" stroke="none" shape-rendering="crispEdges"/>
<text x="1257" y="32" textLength="28" lengthAdjust="spacingAndGlyphs">37.045</text>
<rect x="1252" y="61" width="2" height="1" fill="#000" stroke="none" shape-rendering="crispEdges"/>
<text x="1257" y="65" textLength="28" lengthAdjust="spacingAndGlyphs">35.855</text>
<rect x="1252" y="94" width="2" height="1" fill="#000" stroke="none" shape-rendering="crispEdges"/>
<text x="1257" y="98" textLength="28" lengthAdjust="spacingAndGlyphs">34.700</text>
<rect x="1252" y="127" width="2" height="1" fill="#000" stroke="none" shape-rendering="crispEdges"/>
<text x="1257" y="131" textLength="28" lengthAdjust="spacingAndGlyphs">33.545</text>
<rect x="1252" y="160" width="2" height="1" fill="#000" stroke="none" shape-rendering="crispEdges"/>
<text x="1257" y="164" textLength="28" lengthAdjust="spacingAndGlyphs">32.355</text>
<rect x="1252" y="193" width="2" height="1" fill="#000" stroke="none" shape-rendering="crispEdges"/>
<text x="1257" y="197" textLength="28" lengthAdjust="spacingAndGlyphs">31.200</text>
<rect x="1252" y="226" width="2" height="1" fill="#000" stroke="none" shape-rendering="crispEdges"/>
<text x="1257" y="230" textLength="28" lengthAdjust="spacingAndGlyphs">30.010</text>
<rect x="1252" y="259" width="2" height="1" fill="#000" stroke="none" shape-rendering="crispEdges"/>
<text x="1257" y="263" textLength="28" lengthAdjust="spacingAndGlyphs">28.855</text>
<rect x="1252" y="292" width="2" height="1" fill="#000" stroke="none" shape-rendering="crispEdges"/>
<text x="1257" y="296" textLength="28" lengthAdjust="spacingAndGlyphs">27.665</text>
<rect x="1252" y="325" width="2" height="1" fill="#000" stroke="none" shape-rendering="crispEdges"/>
<text x="1257" y="329" textLength="28" lengthAdjust="spacingAndGlyphs">26.510</text>
<rect x="1252" y="358" width="2" height="1" fill="#000" stroke="none" shape-rendering="crispEdges"/>
<text x="1257" y="362" textLength="28" lengthAdjust="spacingAndGlyphs">25.355</text>
<rect x="1252" y="391" width="2" height="1" fill="#000" stroke="none" shape-rendering="crispEdges"/>
<text x="1257" y="395" textLength="28" lengthAdjust="spacingAndGlyphs">24.165</text>
<rect x="1252" y="424" width="2" height="1" fill="#000" stroke="none" shape-rendering="crispEdges"/>
<text x="1257" y="428" textLength="28" lengthAdjust="spacingAndGlyphs">23.010</text>
<rect x="1252" y="458" width="2" height="1" fill="#000" stroke="none" shape-rendering="crispEdges"/>
<text x="1257" y="462" textLength="28" lengthAdjust="spacingAndGlyphs">21.820</text>
<rect x="1252" y="491" width="2" height="1" fill="#000" stroke="none" shape-rendering="crispEdges"/>
<text x="1257" y="495" textLength="28" lengthAdjust="spacingAndGlyphs">20.665</text>
<rect x="1252" y="524" width="2" height="1" fill="#000" stroke="none" shape-rendering="crispEdges"/>
<text x="1257" y="528" textLength="28" lengthAdjust="spacingAndGlyphs">19.475</text>
<rect x="1252" y="557" width="2" height="1" fill="#000" stroke="none" shape-rendering="crispEdges"/>
<text x="1257" y="561" textLength="28" lengthAdjust="spacingAndGlyphs">18.320</text>
<rect x="1252" y="590" width="2" height="1" fill="#000" stroke="none" shape-rendering="crispEdges"/>
<text x="1257" y="594" textLength="28" lengthAdjust="spacingAndGlyphs">17.165</text>
<rect x="1253" y="215" width="36" height="11" fill="#f00" stroke="none" shape-rendering="crispEdges"/>
<text x="1257" y="224" fill="#fff" stroke="#fff" textLength="28" lengthAdjust="spacingAndGlyphs">30.195</text>
<rect x="1253" y="229" width="36" height="11" fill="#f00" stroke="none" shape-rendering="crispEdges"/>
<text x="1257" y="238" fill="#fff" stroke="#fff" textLength="28" lengthAdjust="spacingAndGlyphs">29.692</text>
<rect x="1253" y="49" width="36" height="11" fill="#000" stroke="none" shape-rendering="crispEdges"/>
<text x="1257" y="58" fill="#fff" stroke="#fff" textLength="28" lengthAdjust="spacingAndGlyphs">36.118</text>
</g>
<rect x="1292" y="0" width="1" height="593" fill="#e6e6e6"/>
</svg>
</body></html>
